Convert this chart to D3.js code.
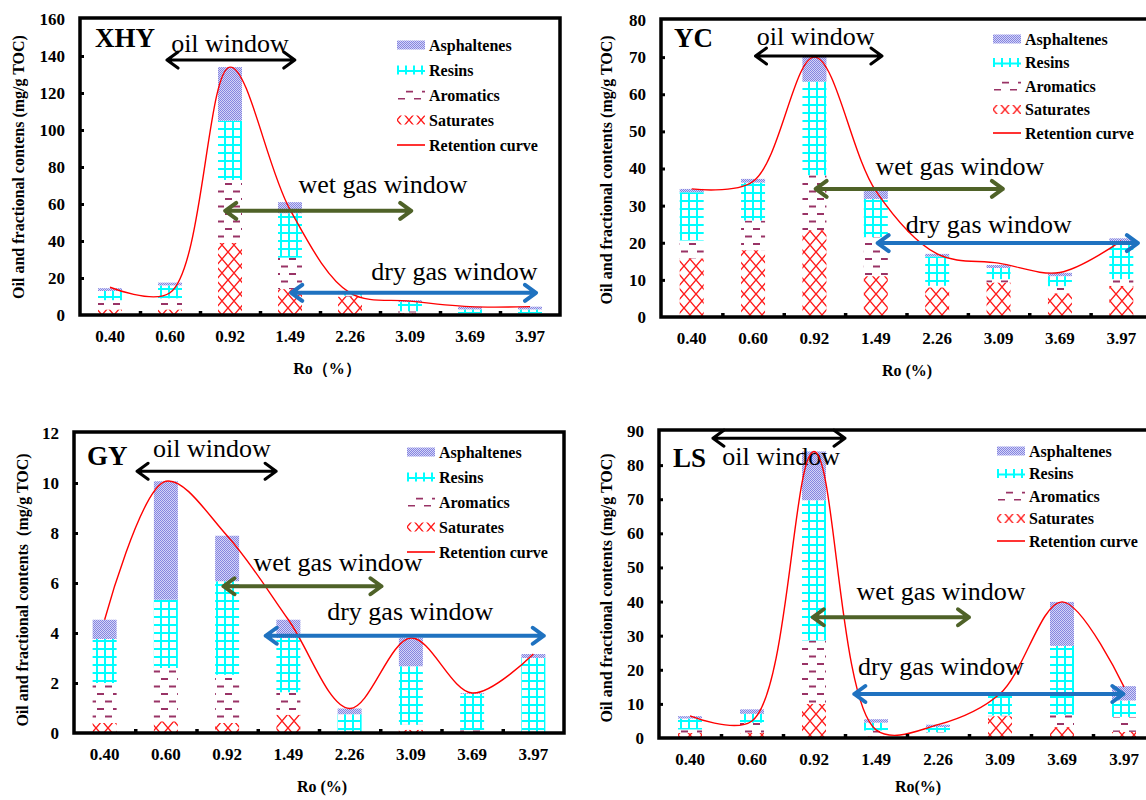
<!DOCTYPE html>
<html>
<head>
<meta charset="utf-8">
<script src="https://cdn.jsdelivr.net/npm/d3@7"></script>
<style>
body { margin: 0; background: #fff; }
svg text { font-family: "Liberation Serif", "DejaVu Serif", serif !important; fill: #000; }
</style>
</head>
<body>
<svg id="chart" width="1146" height="800"></svg>
<script>
// Ro levels shared by all four wells
const roLevels = ["0.40", "0.60", "0.92", "1.49", "2.26", "3.09", "3.69", "3.97"];
const fractionNames = ["Asphaltenes", "Resins", "Aromatics", "Saturates", "Retention curve"];

// XHY
const xhySaturates   = [3, 3, 39, 14, 10, 1, 0.5, 0.5];
const xhyAromatics   = [5, 6, 34, 17, 0.5, 1, 0.5, 0.5];
const xhyResins      = [5, 7, 32, 24, 2, 5, 2, 2];
const xhyAsphaltenes = [1.5, 1.5, 29, 6, 0.5, 1, 1.5, 1.5];
const xhyRetention   = [15, 12, 134, 57, 12, 7.5, 4.5, 4.5];
const xhyTicks = [0, 20, 40, 60, 80, 100, 120, 140, 160];

// YC
const ycSaturates   = [15.8, 18, 23.4, 11, 8, 9.3, 6.4, 8.4];
const ycAromatics   = [4.8, 8, 14.8, 10.5, 0.4, 0.9, 1.9, 1.8];
const ycResins      = [13, 10.2, 25.2, 10.3, 7.9, 3, 2.7, 9.5];
const ycAsphaltenes = [0.9, 1, 6.7, 2.2, 0.7, 0.8, 0.9, 1.5];
const ycRetention   = [34.5, 36.5, 70, 34, 17, 14.5, 12, 20.5];
const ycTicks = [0, 10, 20, 30, 40, 50, 60, 70, 80];

// GY
const gySaturates   = [0.4, 0.47, 0.4, 0.73, 0.02, 0.13, 0.05, 0.01];
const gyAromatics   = [1.6, 2.13, 1.93, 0.9, 0.03, 0.2, 0.07, 0.01];
const gyResins      = [1.76, 2.73, 3.74, 2.17, 0.7, 2.34, 1.45, 2.98];
const gyAsphaltenes = [0.77, 4.74, 1.82, 0.73, 0.23, 1.13, 0.03, 0.16];
const gyRetention   = [4.53, 10.07, 7.89, 4.53, 0.98, 3.8, 1.6, 3.16];
const gyTicks = [0, 2, 4, 6, 8, 10, 12];

// LS
const lsSaturates   = [1.5, 1.5, 10, 0.5, 0.3, 6.4, 3.2, 1.8];
const lsAromatics   = [1, 3, 18.6, 1.7, 1.4, 0.2, 3.6, 4.4];
const lsResins      = [3.2, 2.6, 41.1, 2.3, 1.5, 5.9, 20.2, 4.8];
const lsAsphaltenes = [0.7, 1.3, 14.3, 1, 0.7, 0.5, 12.9, 4.2];
const lsRetention   = [6.5, 5, 84, 2.4, 3.9, 13, 39.9, 15];
const lsTicks = [0, 10, 20, 30, 40, 50, 60, 70, 80, 90];

const svg = d3.select("#chart");
const defs = svg.append("defs");

// fill patterns
const pAsph = defs.append("pattern").attr("id", "pat-asph")
    .attr("patternUnits", "userSpaceOnUse").attr("width", 2).attr("height", 2);
pAsph.append("rect").attr("width", 2).attr("height", 2).attr("fill", "#d4d4f7");
pAsph.append("rect").attr("width", 1).attr("height", 1).attr("fill", "#8585e0");
pAsph.append("rect").attr("x", 1).attr("y", 1).attr("width", 1).attr("height", 1).attr("fill", "#8585e0");

const pRes = defs.append("pattern").attr("id", "pat-res")
    .attr("patternUnits", "userSpaceOnUse").attr("width", 8).attr("height", 8);
pRes.append("rect").attr("width", 8).attr("height", 8).attr("fill", "#fff");
pRes.append("rect").attr("width", 8).attr("height", 2).attr("fill", "#00ffff");
pRes.append("rect").attr("width", 2).attr("height", 8).attr("fill", "#00ffff");

const pAro = defs.append("pattern").attr("id", "pat-aro")
    .attr("patternUnits", "userSpaceOnUse").attr("width", 16).attr("height", 15);
pAro.append("rect").attr("width", 16).attr("height", 15).attr("fill", "#fff");
pAro.append("rect").attr("x", 1).attr("y", 3).attr("width", 7).attr("height", 2).attr("fill", "#993366");
pAro.append("rect").attr("x", 9).attr("y", 10.5).attr("width", 7).attr("height", 2).attr("fill", "#993366");

const pSat = defs.append("pattern").attr("id", "pat-sat")
    .attr("patternUnits", "userSpaceOnUse").attr("width", 12).attr("height", 14);
pSat.append("rect").attr("width", 12).attr("height", 14).attr("fill", "#fff");
pSat.append("path").attr("d", "M0,0L12,14M12,0L0,14")
    .attr("stroke", "#ff1a1a").attr("stroke-width", 1.4).attr("fill", "none");

const patternOf = {asph: "url(#pat-asph)", res: "url(#pat-res)", aro: "url(#pat-aro)", sat: "url(#pat-sat)"};

const panels = [
  {
    name: "XHY", sat: xhySaturates, aro: xhyAromatics, res: xhyResins, asph: xhyAsphaltenes,
    ret: xhyRetention, ticks: xhyTicks,
    x0: 80, x1: 560, y0: 315, y1: 19,
    nameX: 95, nameY: 47,
    yTitle: "Oil and fractional contens (mg/g TOC)", yTitleX: 18, yTitleY: 167,
    xTitle: "Ro（%）", xTitleX: 327, xTitleY: 368,
    legendX: 397, legendY: 45, legendStep: 25,
    windows: [
      {text: "oil window", tu: 2.5, tv: 142, a: 1.45, b: 3.58, v: 137.8, color: "#000", w: 3},
      {text: "wet gas window", tu: 5.05, tv: 66, a: 2.42, b: 5.52, v: 56.3, color: "#4f6228", w: 4},
      {text: "dry gas window", tu: 6.24, tv: 19, a: 3.52, b: 7.6, v: 12, color: "#1f72c0", w: 4}
    ]
  },
  {
    name: "YC", sat: ycSaturates, aro: ycAromatics, res: ycResins, asph: ycAsphaltenes,
    ret: ycRetention, ticks: ycTicks,
    x0: 661, x1: 1152, y0: 317, y1: 20,
    nameX: 674, nameY: 47,
    yTitle: "Oil and fractional contents (mg/g TOC)", yTitleX: 606, yTitleY: 170,
    xTitle: "Ro (%)", xTitleX: 907, xTitleY: 370,
    legendX: 993, legendY: 39, legendStep: 23.5,
    windows: [
      {text: "oil window", tu: 2.52, tv: 73.3, a: 1.54, b: 3.6, v: 70.3, color: "#000", w: 3},
      {text: "wet gas window", tu: 4.87, tv: 38.2, a: 2.52, b: 5.57, v: 34.5, color: "#4f6228", w: 4},
      {text: "dry gas window", tu: 5.34, tv: 22.6, a: 3.53, b: 7.77, v: 19.9, color: "#1f72c0", w: 4}
    ]
  },
  {
    name: "GY", sat: gySaturates, aro: gyAromatics, res: gyResins, asph: gyAsphaltenes,
    ret: gyRetention, ticks: gyTicks,
    x0: 74, x1: 564, y0: 733, y1: 433,
    nameX: 87, nameY: 465,
    yTitle: "Oil and fractional contents  (mg/g TOC)", yTitleX: 22, yTitleY: 590,
    xTitle: "Ro (%)", xTitleX: 322, xTitleY: 786,
    legendX: 407, legendY: 452, legendStep: 25,
    windows: [
      {text: "oil window", tu: 2.25, tv: 11.06, a: 1.03, b: 3.3, v: 10.47, color: "#000", w: 3},
      {text: "wet gas window", tu: 4.31, tv: 6.47, a: 2.44, b: 5.02, v: 5.87, color: "#4f6228", w: 4},
      {text: "dry gas window", tu: 5.49, tv: 4.53, a: 3.13, b: 7.67, v: 3.89, color: "#1f72c0", w: 4}
    ]
  },
  {
    name: "LS", sat: lsSaturates, aro: lsAromatics, res: lsResins, asph: lsAsphaltenes,
    ret: lsRetention, ticks: lsTicks,
    x0: 659, x1: 1155, y0: 738, y1: 431,
    nameX: 673, nameY: 467,
    yTitle: "Oil and fractional contents (mg/g TOC)", yTitleX: 606, yTitleY: 588,
    xTitle: "Ro(%)", xTitleX: 918, xTitleY: 786,
    legendX: 997, legendY: 451, legendStep: 22.5,
    windows: [
      {text: "oil window", tu: 1.97, tv: 80, a: 0.87, b: 3.0, v: 87.9, color: "#000", w: 3},
      {text: "wet gas window", tu: 4.55, tv: 40.5, a: 2.48, b: 5.0, v: 35.4, color: "#4f6228", w: 4},
      {text: "dry gas window", tu: 4.55, tv: 18.5, a: 3.15, b: 7.49, v: 12.9, color: "#1f72c0", w: 4}
    ]
  }
];

const barW = 24;

function drawPanel(cfg) {
    const g = svg.append("g");
    const x = d3.scaleBand().domain(roLevels).range([cfg.x0, cfg.x1]);
    const y = d3.scaleLinear().domain([0, cfg.ticks[cfg.ticks.length - 1]]).range([cfg.y0, cfg.y1]);
    const u = d3.scaleLinear().domain([0, roLevels.length]).range([cfg.x0, cfg.x1]);

    const rows = roLevels.map((r, i) => ({ro: r, sat: cfg.sat[i], aro: cfg.aro[i], res: cfg.res[i], asph: cfg.asph[i]}));
    const series = d3.stack().keys(["sat", "aro", "res", "asph"])(rows);

    g.append("g").selectAll("g")
        .data(series)
        .join("g")
        .attr("fill", d => patternOf[d.key])
        .selectAll("rect")
        .data(d => d)
        .join("rect")
        .attr("x", d => x(d.data.ro) + (x.bandwidth() - barW) / 2)
        .attr("y", d => y(d[1]))
        .attr("width", barW)
        .attr("height", d => Math.max(0, y(d[0]) - y(d[1])));

    // window labels
    g.append("g").selectAll("text")
        .data(cfg.windows)
        .join("text")
        .attr("x", d => u(d.tu))
        .attr("y", d => y(d.tv))
        .attr("text-anchor", "middle")
        .attr("font-size", 26)
        .text(d => d.text);

    // retention curve
    const line = d3.line()
        .x((d, i) => x(roLevels[i]) + x.bandwidth() / 2)
        .y(d => y(d))
        .curve(d3.curveCatmullRom.alpha(0.5));
    g.append("path")
        .datum(cfg.ret)
        .attr("d", line)
        .attr("fill", "none")
        .attr("stroke", "#ff0000")
        .attr("stroke-width", 1.4);

    // double arrows
    cfg.windows.forEach(w => {
        const xa = u(w.a), xb = u(w.b), yy = y(w.v);
        const ah = 11, aw = 8;
        g.append("path")
            .attr("d", `M${xa},${yy}L${xb},${yy}` +
                `M${xa + ah},${yy - aw}L${xa},${yy}L${xa + ah},${yy + aw}` +
                `M${xb - ah},${yy - aw}L${xb},${yy}L${xb - ah},${yy + aw}`)
            .attr("fill", "none")
            .attr("stroke", w.color)
            .attr("stroke-width", w.w)
            .attr("stroke-linecap", "round")
            .attr("stroke-linejoin", "round");
    });

    // axes
    const yAxis = g.append("g")
        .attr("transform", `translate(${cfg.x0},0)`)
        .call(d3.axisLeft(y).tickValues(cfg.ticks).tickSize(0).tickPadding(15));
    yAxis.select(".domain").remove();
    yAxis.selectAll("text").attr("font-size", 17).attr("font-weight", "bold");

    const yNotches = g.append("g")
        .attr("transform", `translate(${cfg.x0},0)`)
        .call(d3.axisLeft(y).tickValues(cfg.ticks.slice(1, -1)).tickSize(-4).tickFormat(""));
    yNotches.select(".domain").remove();
    yNotches.selectAll("line").attr("stroke", "#000").attr("stroke-width", 3);

    const xAxis = g.append("g")
        .attr("transform", `translate(0,${cfg.y0})`)
        .call(d3.axisBottom(x).tickSize(0).tickPadding(15));
    xAxis.select(".domain").remove();
    xAxis.selectAll("text").attr("font-size", 17).attr("font-weight", "bold");

    const xNotches = g.append("g")
        .attr("transform", `translate(0,${cfg.y0})`)
        .call(d3.axisBottom(u).tickValues(d3.range(1, roLevels.length)).tickSize(-4).tickFormat(""));
    xNotches.select(".domain").remove();
    xNotches.selectAll("line").attr("stroke", "#000").attr("stroke-width", 3.5);

    // frame
    g.append("rect")
        .attr("x", cfg.x0).attr("y", cfg.y1 - 1)
        .attr("width", cfg.x1 - cfg.x0).attr("height", cfg.y0 - cfg.y1 + 1)
        .attr("fill", "none").attr("stroke", "#000").attr("stroke-width", 3.5);

    // titles
    g.append("text")
        .attr("x", cfg.nameX).attr("y", cfg.nameY)
        .attr("font-size", 27).attr("font-weight", "bold")
        .text(cfg.name);

    g.append("text")
        .attr("transform", `translate(${cfg.yTitleX},${cfg.yTitleY}) rotate(-90)`)
        .attr("dy", "0.35em")
        .attr("text-anchor", "middle")
        .attr("font-size", 16).attr("font-weight", "bold")
        .style("white-space", "pre")
        .text(cfg.yTitle);

    g.append("text")
        .attr("x", cfg.xTitleX).attr("y", cfg.xTitleY)
        .attr("dy", "0.35em")
        .attr("text-anchor", "middle")
        .attr("font-size", 16).attr("font-weight", "bold")
        .text(cfg.xTitle);

    // legend
    const keys = ["asph", "res", "aro", "sat", "ret"];
    const lg = g.append("g").selectAll("g")
        .data(keys)
        .join("g")
        .attr("transform", (d, i) => `translate(${cfg.legendX},${cfg.legendY + i * cfg.legendStep})`);
    lg.filter(d => d !== "ret").append("rect")
        .attr("x", 0).attr("y", -4.5).attr("width", 28).attr("height", 9)
        .attr("fill", d => patternOf[d]);
    lg.filter(d => d === "ret").append("line")
        .attr("x1", 0).attr("x2", 28).attr("y1", 0).attr("y2", 0)
        .attr("stroke", "#ff0000").attr("stroke-width", 1.6);
    lg.append("text")
        .attr("x", 32).attr("y", 0).attr("dy", "0.35em")
        .attr("font-size", 16).attr("font-weight", "bold")
        .text((d, i) => fractionNames[i]);
}

panels.forEach(drawPanel);
</script>
</body>
</html>
